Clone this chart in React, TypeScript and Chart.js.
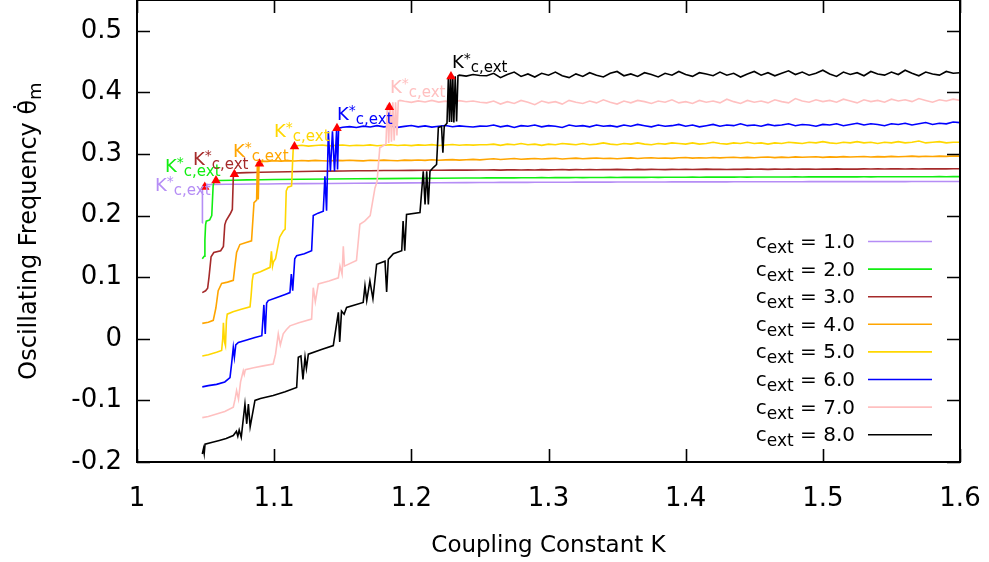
import React, { useEffect, useRef } from 'react';
import { Chart, registerables } from 'chart.js';

Chart.register(...registerables);

// ---------------- data ----------------
const LEGEND_VALUES = ['1.0', '2.0', '3.0', '4.0', '5.0', '6.0', '7.0', '8.0'];
const X_TICKS_MIN = 1;
const X_TICKS_MAX = 1.6;
const Y_TICKS_MIN = -0.2;
const Y_TICKS_MAX = 0.5;
const Y_AXIS_TOP = 0.55;

// shared fine K grid for the plateau parts (1.095 .. 1.600)
const FINE_K = [
  1.095, 1.1, 1.105, 1.11, 1.115, 1.12, 1.125, 1.13, 1.135, 1.14,
  1.145, 1.15, 1.155, 1.16, 1.165, 1.17, 1.175, 1.18, 1.185, 1.19,
  1.195, 1.2, 1.205, 1.21, 1.215, 1.22, 1.225, 1.23, 1.235, 1.24,
  1.245, 1.25,
  1.255, 1.26, 1.265, 1.27, 1.275, 1.28, 1.285, 1.29, 1.295, 1.3,
  1.305, 1.31, 1.315, 1.32, 1.325, 1.33, 1.335, 1.34, 1.345, 1.35,
  1.355, 1.36, 1.365, 1.37, 1.375, 1.38, 1.385, 1.39, 1.395, 1.4,
  1.405, 1.41, 1.415, 1.42, 1.425, 1.43, 1.435, 1.44, 1.445, 1.45,
  1.455, 1.46, 1.465, 1.47, 1.475, 1.48, 1.485, 1.49, 1.495, 1.5,
  1.505, 1.51, 1.515, 1.52, 1.525, 1.53, 1.535, 1.54, 1.545, 1.55,
  1.555, 1.56, 1.565, 1.57, 1.575, 1.58, 1.585, 1.59, 1.595, 1.6,
];

// c_ext = 1.0
const K_C1 = [1.0476, 1.0477, 1.0485, 1.055, 1.065, 1.075, 1.085, 1.095, 1.105, 1.12, 1.14, 1.16, 1.18, 1.2, 1.22, 1.24, 1.25];
const W_C1 = [0.188, 0.245, 0.25, 0.2505, 0.2508, 0.251, 0.2512, 0.2514, 0.2516, 0.2519, 0.2522, 0.2525, 0.2528, 0.2531, 0.2534, 0.2536, 0.2537];
const P_C1 = [
  0.2538, 0.2538, 0.2539, 0.2539, 0.254, 0.254, 0.254, 0.2541, 0.2541, 0.2541,
  0.2542, 0.2542, 0.2542, 0.2543, 0.2543, 0.2543, 0.2544, 0.2544, 0.2544, 0.2545,
  0.2545, 0.2545, 0.2545, 0.2546, 0.2546, 0.2546, 0.2546, 0.2547, 0.2547, 0.2547,
  0.2547, 0.2548, 0.2548, 0.2548, 0.2548, 0.2548, 0.2549, 0.2549, 0.2549, 0.2549,
  0.2549, 0.255, 0.255, 0.255, 0.255, 0.255, 0.255, 0.2551, 0.2551, 0.2551,
  0.2551, 0.2551, 0.2551, 0.2551, 0.2552, 0.2552, 0.2552, 0.2552, 0.2552, 0.2552,
  0.2552, 0.2552, 0.2553, 0.2553, 0.2553, 0.2553, 0.2553, 0.2553, 0.2553, 0.2553,
];

// c_ext = 2.0
const K_C2 = [1.0476, 1.049, 1.0495, 1.05, 1.0505, 1.053, 1.0545, 1.0555, 1.0562, 1.06, 1.07, 1.08, 1.09, 1.1, 1.12, 1.14, 1.16, 1.18, 1.2, 1.22, 1.24, 1.25];
const W_C2 = [0.13, 0.134, 0.16, 0.185, 0.191, 0.193, 0.2, 0.248, 0.2555, 0.257, 0.2575, 0.258, 0.2583, 0.2586, 0.259, 0.2594, 0.2598, 0.2601, 0.2604, 0.2607, 0.261, 0.2611];
const P_C2 = [
  0.2612, 0.2613, 0.2612, 0.2614, 0.2613, 0.2615, 0.2614, 0.2615, 0.2616, 0.2615,
  0.2617, 0.2616, 0.2617, 0.2618, 0.2617, 0.2619, 0.2618, 0.2619, 0.262, 0.2619,
  0.262, 0.2621, 0.262, 0.2621, 0.2622, 0.2621, 0.2622, 0.2623, 0.2622, 0.2623,
  0.2624, 0.2623, 0.2624, 0.2625, 0.2624, 0.2625, 0.2625, 0.2626, 0.2625, 0.2626,
  0.2626, 0.2627, 0.2626, 0.2627, 0.2627, 0.2628, 0.2627, 0.2628, 0.2628, 0.2628,
  0.2629, 0.2628, 0.2629, 0.2629, 0.2629, 0.263, 0.2629, 0.263, 0.263, 0.263,
  0.2631, 0.263, 0.2631, 0.2631, 0.263, 0.2631, 0.2632, 0.2631, 0.2632, 0.2632,
];

// c_ext = 3.0
const K_C3 = [1.0476, 1.05, 1.0515, 1.0525, 1.054, 1.056, 1.061, 1.063, 1.064, 1.065, 1.068, 1.0695, 1.0702, 1.071, 1.075, 1.08, 1.085, 1.09, 1.1, 1.11, 1.12, 1.13, 1.14, 1.15, 1.16, 1.17, 1.18, 1.19, 1.2, 1.21, 1.22, 1.23, 1.24, 1.25];
const W_C3 = [0.075, 0.078, 0.082, 0.1, 0.133, 0.14, 0.143, 0.15, 0.185, 0.192, 0.203, 0.21, 0.262, 0.2692, 0.2694, 0.2698, 0.27, 0.2703, 0.2707, 0.2712, 0.2716, 0.2719, 0.2722, 0.2724, 0.2727, 0.2729, 0.2731, 0.2733, 0.2734, 0.2736, 0.2737, 0.2738, 0.2739, 0.274];
const P_C3 = [
  0.274, 0.2743, 0.2738, 0.2742, 0.2745, 0.274, 0.2744, 0.2741, 0.2746, 0.2742,
  0.2745, 0.2748, 0.2743, 0.2747, 0.2744, 0.2749, 0.2745, 0.2748, 0.2746, 0.275,
  0.2747, 0.2745, 0.275, 0.2747, 0.2751, 0.2748, 0.2746, 0.2751, 0.2749, 0.2752,
  0.2748, 0.2751, 0.2754, 0.275, 0.2753, 0.2749, 0.2753, 0.2751, 0.2755, 0.2752,
  0.2754, 0.275, 0.2755, 0.2753, 0.2756, 0.2752, 0.2755, 0.2757, 0.2753, 0.2756,
  0.2754, 0.2758, 0.2755, 0.2757, 0.2754, 0.2758, 0.2756, 0.2759, 0.2756, 0.2758,
  0.276, 0.2757, 0.2759, 0.2756, 0.276, 0.2758, 0.2761, 0.2758, 0.276, 0.276,
];

// c_ext = 4.0
const K_C4 = [1.0476, 1.052, 1.0556, 1.0575, 1.0592, 1.0617, 1.066, 1.0702, 1.0715, 1.0726, 1.075, 1.079, 1.0835, 1.0853, 1.0872, 1.0878, 1.0884, 1.089, 1.0895];
const W_C4 = [0.025, 0.027, 0.03, 0.05, 0.078, 0.09, 0.092, 0.095, 0.12, 0.14, 0.153, 0.156, 0.159, 0.221, 0.225, 0.287, 0.226, 0.288, 0.2885];
const P_C4 = [
  0.288, 0.289, 0.2884, 0.2893, 0.2887, 0.2895, 0.2889, 0.2897, 0.2891, 0.2886,
  0.2896, 0.2892, 0.2899, 0.2893, 0.2888, 0.2898, 0.2894, 0.2901, 0.2895, 0.289,
  0.29, 0.2896, 0.2903, 0.2897, 0.2906, 0.2899, 0.2904, 0.2909, 0.2901, 0.2907,
  0.2912, 0.2905,
  0.2915, 0.2922, 0.291, 0.292, 0.2926, 0.2915, 0.2921, 0.2928, 0.2918, 0.2925,
  0.293, 0.292, 0.2927, 0.2933, 0.2922, 0.2929, 0.2935, 0.2926, 0.2932, 0.2924,
  0.2931, 0.2937, 0.2928, 0.2934, 0.294, 0.293, 0.2936, 0.2929, 0.2938, 0.2943,
  0.2933, 0.294, 0.2935, 0.2944, 0.2937, 0.2942, 0.2948, 0.2938, 0.2945, 0.294,
  0.2947, 0.2952, 0.2942, 0.2949, 0.2944, 0.2953, 0.2947, 0.2951, 0.2956, 0.2946,
  0.2953, 0.2949, 0.2957, 0.2951, 0.2955, 0.296, 0.2952, 0.2958, 0.2954, 0.2962,
  0.2956, 0.296, 0.2965, 0.2957, 0.2963, 0.2959, 0.2966, 0.2961, 0.2968, 0.2966,
];

// c_ext = 5.0
const K_C5 = [1.0476, 1.052, 1.058, 1.0617, 1.0625, 1.063, 1.0638, 1.0645, 1.0652, 1.0658, 1.07, 1.076, 1.0824, 1.0832, 1.084, 1.0848, 1.09, 1.097, 1.098, 1.0988, 1.0995, 1.101, 1.104, 1.1066, 1.108, 1.1088, 1.11, 1.1127, 1.1135, 1.114];
const W_C5 = [-0.028, -0.026, -0.022, -0.019, 0.0, 0.026, -0.005, -0.011, 0.03, 0.04, 0.044, 0.048, 0.052, 0.07, 0.094, 0.105, 0.109, 0.116, 0.142, 0.118, 0.125, 0.13, 0.165, 0.175, 0.178, 0.24, 0.246, 0.248, 0.29, 0.313];
const P_C5 = [
  0.313, 0.3142, 0.3128, 0.3138, 0.3145, 0.3132, 0.314, 0.3147, 0.3135, 0.3143,
  0.3137, 0.3148, 0.3134, 0.3142, 0.315, 0.3138, 0.3145, 0.3136, 0.3148, 0.3141,
  0.3152, 0.3139, 0.3146, 0.3153, 0.3141, 0.3149, 0.3144, 0.3151,
  0.315, 0.316, 0.314, 0.316, 0.315, 0.317, 0.315, 0.316, 0.314, 0.316,
  0.315, 0.317, 0.316, 0.315, 0.317, 0.315, 0.316, 0.318, 0.316, 0.315,
  0.317, 0.316, 0.318, 0.316, 0.315, 0.317, 0.316, 0.318, 0.317, 0.316,
  0.318, 0.316, 0.317, 0.319, 0.317, 0.316, 0.318, 0.317, 0.319, 0.317,
  0.318, 0.316, 0.318, 0.317, 0.319, 0.318, 0.317, 0.319, 0.318, 0.32,
  0.318, 0.317, 0.319, 0.318, 0.32, 0.318, 0.319, 0.317, 0.319, 0.318,
  0.32, 0.318, 0.319, 0.321, 0.318, 0.319, 0.32, 0.318, 0.319, 0.319,
];

// c_ext = 6.0
const K_C6 = [1.0476, 1.052, 1.058, 1.064, 1.0678, 1.069, 1.0702, 1.071, 1.072, 1.0739, 1.08, 1.086, 1.091, 1.0925, 1.0935, 1.0945, 1.0957, 1.102, 1.108, 1.1115, 1.1125, 1.1135, 1.115, 1.1164, 1.122, 1.1273, 1.1285, 1.132, 1.1358, 1.137, 1.1382, 1.1395, 1.141, 1.1425, 1.144, 1.1455, 1.1462, 1.147, 1.15];
const W_C6 = [-0.078, -0.076, -0.074, -0.07, -0.063, -0.04, -0.014, -0.03, -0.01, -0.006, -0.002, 0.002, 0.005, 0.055, 0.008, 0.058, 0.062, 0.067, 0.072, 0.075, 0.105, 0.078, 0.13, 0.135, 0.138, 0.143, 0.2, 0.204, 0.207, 0.264, 0.208, 0.337, 0.272, 0.337, 0.272, 0.338, 0.275, 0.342, 0.3435];
const P_C6 = [
  0.3445, 0.343, 0.3452, 0.3438, 0.346, 0.3441, 0.3455, 0.3433, 0.3449, 0.3462,
  0.344, 0.3456, 0.3436, 0.3451, 0.3463, 0.3442, 0.3457, 0.3447, 0.3438, 0.3452,
  0.345, 0.347, 0.344, 0.346, 0.343, 0.346, 0.345, 0.347, 0.344, 0.346,
  0.345, 0.343, 0.347, 0.345, 0.346, 0.344, 0.347, 0.345, 0.346, 0.344,
  0.347, 0.345, 0.348, 0.346, 0.344, 0.347, 0.345, 0.346, 0.348, 0.345,
  0.347, 0.344, 0.346, 0.348, 0.345, 0.347, 0.346, 0.349, 0.346, 0.347,
  0.345, 0.348, 0.346, 0.347, 0.349, 0.346, 0.348, 0.347, 0.345, 0.348,
  0.347, 0.349, 0.346, 0.348, 0.35, 0.347, 0.349, 0.348, 0.346, 0.349,
  0.348, 0.35, 0.347, 0.349, 0.351, 0.348, 0.35, 0.349, 0.352, 0.351,
];

// c_ext = 7.0
const K_C7 = [1.0476, 1.052, 1.058, 1.064, 1.0702, 1.0715, 1.0726, 1.074, 1.0755, 1.0775, 1.0782, 1.079, 1.085, 1.092, 1.0993, 1.101, 1.103, 1.1045, 1.1066, 1.109, 1.1115, 1.118, 1.1273, 1.1285, 1.13, 1.1322, 1.14, 1.1468, 1.148, 1.1495, 1.1504, 1.1512, 1.16, 1.1625, 1.166, 1.17, 1.1735, 1.175, 1.177, 1.1815, 1.1825, 1.1835, 1.1845, 1.1855, 1.1865, 1.1875, 1.1885, 1.1895, 1.1905, 1.1917];
const W_C7 = [-0.128, -0.126, -0.122, -0.118, -0.111, -0.098, -0.084, -0.098, -0.07, -0.052, -0.058, -0.05, -0.047, -0.044, -0.041, -0.025, 0.008, -0.01, 0.008, 0.015, 0.021, 0.026, 0.032, 0.083, 0.06, 0.089, 0.094, 0.099, 0.118, 0.105, 0.15, 0.118, 0.127, 0.186, 0.191, 0.2, 0.245, 0.255, 0.31, 0.316, 0.38, 0.318, 0.383, 0.32, 0.384, 0.322, 0.384, 0.33, 0.386, 0.387];
const P_C7 = [
  0.3855, 0.3838, 0.3862, 0.3845, 0.387, 0.3842, 0.3858, 0.3835, 0.3866, 0.3848,
  0.386, 0.384,
  0.383, 0.386, 0.381, 0.385, 0.382, 0.387, 0.384, 0.38, 0.386, 0.383,
  0.385, 0.381, 0.387, 0.384, 0.382, 0.386, 0.383, 0.388, 0.384, 0.381,
  0.386, 0.383, 0.387, 0.385, 0.382, 0.386, 0.384, 0.388, 0.383, 0.385,
  0.382, 0.387, 0.384, 0.386, 0.383, 0.389, 0.385, 0.382, 0.387, 0.384,
  0.386, 0.383, 0.388, 0.385, 0.383, 0.39, 0.386, 0.384, 0.388, 0.385,
  0.387, 0.384, 0.389, 0.386, 0.383, 0.388, 0.385, 0.387, 0.384, 0.389,
  0.386, 0.388, 0.385, 0.39, 0.387, 0.384, 0.388, 0.386, 0.389, 0.387,
];

// c_ext = 8.0
const K_C8 = [1.0476, 1.0485, 1.049, 1.0496, 1.055, 1.06, 1.065, 1.0702, 1.0725, 1.0735, 1.0745, 1.076, 1.0787, 1.08, 1.0812, 1.0825, 1.086, 1.09, 1.0993, 1.108, 1.1164, 1.1176, 1.1195, 1.121, 1.1225, 1.1235, 1.1249, 1.135, 1.1431, 1.1468, 1.1478, 1.1491, 1.151, 1.1528, 1.1649, 1.1662, 1.1675, 1.1698, 1.172, 1.1747, 1.1808, 1.182, 1.1832, 1.1869, 1.193, 1.194, 1.1952, 1.1965, 1.2063, 1.2087, 1.21, 1.2112, 1.2124, 1.2136, 1.216, 1.2184, 1.2197, 1.222, 1.223, 1.224, 1.226, 1.227, 1.2278, 1.2286, 1.2294, 1.2302, 1.231, 1.232, 1.233, 1.234, 1.235];
const W_C8 = [-0.187, -0.178, -0.186, -0.171, -0.168, -0.165, -0.162, -0.157, -0.15, -0.158, -0.148, -0.16, -0.106, -0.138, -0.106, -0.143, -0.1, -0.097, -0.092, -0.086, -0.079, -0.03, -0.028, -0.066, -0.03, -0.048, -0.025, -0.017, -0.011, 0.043, -0.005, 0.045, 0.04, 0.051, 0.059, 0.086, 0.062, 0.094, 0.065, 0.121, 0.126, 0.076, 0.129, 0.138, 0.143, 0.191, 0.143, 0.202, 0.205, 0.272, 0.218, 0.272, 0.218, 0.272, 0.278, 0.283, 0.343, 0.345, 0.302, 0.345, 0.35, 0.424, 0.352, 0.426, 0.352, 0.427, 0.351, 0.426, 0.353, 0.427, 0.428];
const P_C8 = [
  0.4265, 0.429, 0.4275,
  0.427, 0.431, 0.424, 0.429, 0.433, 0.426, 0.43, 0.425, 0.431, 0.428,
  0.433, 0.427, 0.424, 0.43, 0.426, 0.432, 0.428, 0.425, 0.431, 0.434,
  0.427, 0.43, 0.426, 0.432, 0.429, 0.425, 0.431, 0.428, 0.434, 0.429,
  0.426, 0.432, 0.43, 0.427, 0.433, 0.428, 0.431, 0.425, 0.43, 0.434,
  0.428, 0.432, 0.427, 0.431, 0.435, 0.429, 0.433, 0.428, 0.431, 0.436,
  0.43, 0.426, 0.433, 0.429, 0.432, 0.427, 0.434, 0.43, 0.428, 0.433,
  0.429, 0.436, 0.431, 0.427, 0.433, 0.43, 0.428, 0.434, 0.431, 0.432,
];

// critical points K*_{c,ext} (red triangles)
const K_STAR = [1.0494, 1.0576, 1.071, 1.0893, 1.1148, 1.1458, 1.184, 1.2289];
const W_STAR = [0.2465, 0.257, 0.267, 0.284, 0.312, 0.342, 0.376, 0.4257];
// anchor of each "K*c,ext" label (left edge / baseline of the K)
const LABEL_K = [1.0131, 1.0204, 1.0408, 1.07, 1.0999, 1.1458, 1.1844, 1.2296];
const LABEL_W = [0.2393, 0.2701, 0.2814, 0.2944, 0.3268, 0.3544, 0.3998, 0.4388];

// ---------------- styles ----------------
const COLORS = ['#b58df5', '#11ee11', '#a52a2a', '#ffa500', '#ffd700', '#0000ff', '#ffc0c0', '#000000'];
const FONT = "'DejaVu Sans', Verdana, sans-serif";

const SERIES = [
  [K_C1, W_C1, P_C1], [K_C2, W_C2, P_C2], [K_C3, W_C3, P_C3], [K_C4, W_C4, P_C4],
  [K_C5, W_C5, P_C5], [K_C6, W_C6, P_C6], [K_C7, W_C7, P_C7], [K_C8, W_C8, P_C8],
];

function buildPoints(k: number[], w: number[], p: number[]) {
  const head = k.map((x, i) => ({ x, y: w[i] }));
  const grid = FINE_K.slice(FINE_K.length - p.length);
  const tail = grid.map((x, i) => ({ x, y: p[i] }));
  return head.concat(tail);
}

type Seg = { t: string; size: number; dy: number };

function drawSegs(ctx: CanvasRenderingContext2D, x: number, y: number, segs: Seg[], align: 'left' | 'right' | 'center') {
  const widths = segs.map((s) => {
    ctx.font = `${s.size}px ${FONT}`;
    return ctx.measureText(s.t).width;
  });
  const total = widths.reduce((a, b) => a + b, 0);
  let cx = align === 'right' ? x - total : align === 'center' ? x - total / 2 : x;
  segs.forEach((s, i) => {
    ctx.font = `${s.size}px ${FONT}`;
    ctx.fillText(s.t, cx, y + s.dy);
    cx += widths[i];
  });
}

const overlayPlugin = {
  id: 'overlay',
  afterDatasetsDraw(chart: any) {
    const { ctx, scales } = chart;
    const xs = scales.x;
    const ys = scales.y;
    ctx.save();
    ctx.textAlign = 'left';
    ctx.textBaseline = 'alphabetic';
    LABEL_K.forEach((k, i) => {
      const px = xs.getPixelForValue(k);
      const py = ys.getPixelForValue(LABEL_W[i]);
      ctx.fillStyle = COLORS[i];
      drawSegs(ctx, px, py, [
        { t: 'K', size: 18, dy: 0 },
        { t: '*', size: 14, dy: -5 },
        { t: 'c,ext', size: 15, dy: 4 },
      ], 'left');
    });
    ctx.restore();
  },
  afterDraw(chart: any) {
    const { ctx, chartArea: a, scales } = chart;
    const xs = scales.x;
    const ys = scales.y;
    ctx.save();
    // frame
    ctx.strokeStyle = '#000';
    ctx.lineWidth = 2;
    ctx.beginPath();
    ctx.rect(a.left, a.top, a.right - a.left, a.bottom - a.top);
    ctx.stroke();
    // inward ticks (mirrored)
    ctx.lineWidth = 1.6;
    const TL = 13;
    ctx.beginPath();
    xs.ticks.forEach((t: any) => {
      const px = Math.round(xs.getPixelForValue(t.value)) + 0.5;
      ctx.moveTo(px, a.bottom);
      ctx.lineTo(px, a.bottom - TL);
      ctx.moveTo(px, a.top);
      ctx.lineTo(px, a.top + TL);
    });
    ys.ticks.forEach((t: any) => {
      const py = Math.round(ys.getPixelForValue(t.value)) + 0.5;
      ctx.moveTo(a.left, py);
      ctx.lineTo(a.left + TL, py);
      ctx.moveTo(a.right, py);
      ctx.lineTo(a.right - TL, py);
    });
    ctx.stroke();

    // legend
    ctx.textAlign = 'left';
    ctx.textBaseline = 'alphabetic';
    LEGEND_VALUES.forEach((v, i) => {
      const rowY = a.top + 241 + i * 27.6;
      ctx.fillStyle = '#000';
      drawSegs(ctx, a.right - 105, rowY + 7, [
        { t: 'c', size: 20, dy: 0 },
        { t: 'ext', size: 17, dy: 5 },
        { t: ' = ' + v, size: 20, dy: 0 },
      ], 'right');
      ctx.strokeStyle = COLORS[i];
      ctx.lineWidth = 1.6;
      ctx.beginPath();
      ctx.moveTo(a.right - 92, rowY + 0.5);
      ctx.lineTo(a.right - 28, rowY + 0.5);
      ctx.stroke();
    });

    // y axis title (with dotted theta and subscript m)
    ctx.fillStyle = '#000';
    ctx.translate(36, (a.top + a.bottom) / 2);
    ctx.rotate(-Math.PI / 2);
    drawSegs(ctx, 0, 0, [
      { t: 'Oscillating Frequency \u03B8\u0307', size: 24, dy: 0 },
      { t: 'm', size: 18, dy: 5 },
    ], 'center');
    ctx.restore();
  },
};

const zeroPadding = (scale: any) => {
  scale.paddingTop = 0;
  scale.paddingBottom = 0;
  scale.paddingLeft = 0;
  scale.paddingRight = 0;
};

export default function App() {
  const ref = useRef<HTMLCanvasElement>(null);
  useEffect(() => {
    document.body.style.margin = '0';
    const canvas = ref.current;
    if (!canvas) return;
    const lineSets = SERIES.map((s, i) => ({
      type: 'scatter' as const,
      label: 'c_ext = ' + LEGEND_VALUES[i],
      data: buildPoints(s[0], s[1], s[2]),
      showLine: true,
      borderColor: COLORS[i],
      backgroundColor: COLORS[i],
      borderWidth: 1.6,
      pointRadius: 0,
      pointHoverRadius: 0,
      tension: 0,
      order: 8 - i,
    }));
    const starSet = {
      type: 'scatter' as const,
      label: 'K*',
      data: K_STAR.map((x, i) => ({ x, y: W_STAR[i] })),
      showLine: false,
      pointStyle: 'triangle',
      pointRadius: 5.5,
      borderWidth: 0,
      backgroundColor: '#ff0000',
      borderColor: '#ff0000',
      order: 0,
    };
    const chart = new Chart(canvas, {
      type: 'scatter',
      data: { datasets: [starSet, ...lineSets] as any },
      options: {
        responsive: false,
        animation: false,
        devicePixelRatio: 1,
        layout: { autoPadding: false, padding: { top: 0, right: 29, left: 0, bottom: 0 } },
        plugins: { legend: { display: false }, tooltip: { enabled: false } },
        scales: {
          x: {
            type: 'linear',
            min: X_TICKS_MIN,
            max: X_TICKS_MAX,
            grid: { display: false, drawTicks: false },
            border: { display: false },
            ticks: {
              stepSize: 0.1,
              padding: 22,
              color: '#000',
              font: { family: FONT, size: 26 },
              maxRotation: 0,
              autoSkip: false,
              includeBounds: false,
              callback: (v: any) => String(Math.round(Number(v) * 10) / 10),
            },
            title: {
              display: true,
              text: 'Coupling Constant K',
              color: '#000',
              font: { family: FONT, size: 23 },
              padding: { top: 0, bottom: 2 },
            },
            afterFit: (scale: any) => { scale.height = 100; zeroPadding(scale); },
          },
          y: {
            type: 'linear',
            min: Y_TICKS_MIN,
            max: Y_AXIS_TOP,
            grid: { display: false, drawTicks: false },
            border: { display: false },
            ticks: {
              stepSize: 0.1,
              padding: 15,
              color: '#000',
              font: { family: FONT, size: 26 },
              autoSkip: false,
              includeBounds: false,
              callback: (v: any) => {
                const r = Math.round(Number(v) * 10) / 10;
                return Math.abs(r) < 1e-9 ? '0' : r.toFixed(1);
              },
            },
            afterBuildTicks: (scale: any) => {
              scale.ticks = scale.ticks.filter((t: any) => t.value <= Y_TICKS_MAX + 1e-6);
            },
            afterFit: (scale: any) => { scale.width = 137; zeroPadding(scale); },
          },
        },
      },
      plugins: [overlayPlugin],
    });
    return () => chart.destroy();
  }, []);
  return (
    <div style={{ width: 989, height: 562 }}>
      <canvas ref={ref} width={989} height={562} style={{ display: 'block' }} />
    </div>
  );
}
